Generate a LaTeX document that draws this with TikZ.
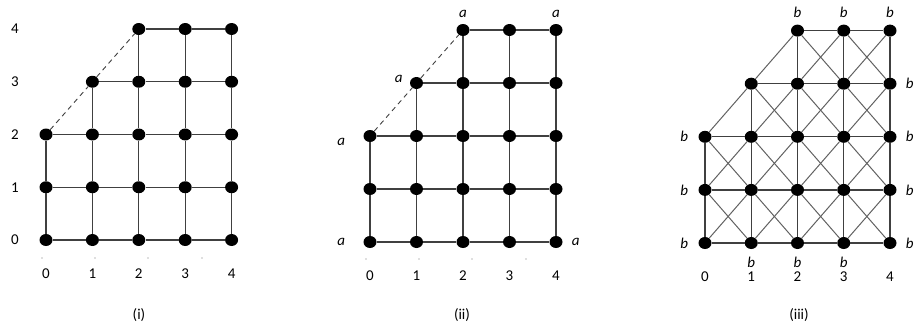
\documentclass[tikz,border=0pt]{standalone}
\usepackage{fontspec}
\setmainfont{Carlito}
\usetikzlibrary{positioning,shapes.geometric}

\begin{document}
\begin{tikzpicture}[
  x=1pt, y=-1pt,
  dot/.style={ellipse, fill=black, inner sep=0pt, minimum width=13pt, minimum height=12pt},
  gridline/.style={draw=black!75, line width=1.2pt},
  diagline/.style={draw=black!62, line width=1pt},
  axis/.style={font=\fontsize{15}{17}\selectfont, inner sep=0pt},
  letter/.style={font=\fontsize{15}{17}\selectfont\itshape, inner sep=0pt},
  tickdot/.style={circle, fill=black!55, inner sep=0pt, minimum size=1.3pt},
]
\useasboundingbox (0,0) rectangle (914,324);

% The three staircase lattices share the same shape; only the origin and
% spacing differ a little from panel to panel.
\foreach \p/\ox/\oy/\dx/\dy in {i/46/240/46.4/52.75, ii/370/242/46.5/53, iii/705/243/46.25/53.1} {
  % lattice points, row by row (the upper rows start further right)
  \foreach \y/\xs in {0/0,1/0,2/0,3/1,4/2}
    \foreach \x in {\xs,...,4}
      \node[dot] (\p-\x-\y) at ({\ox+\dx*\x},{\oy-\dy*\y}) {};
  % horizontal edges
  \foreach \y/\xs in {0/0,1/0,2/0,3/1,4/2}
    \foreach \x in {\xs,...,3} {
      \pgfmathtruncatemacro\nx{\x+1}
      \draw[gridline] (\p-\x-\y) -- (\p-\nx-\y);
    }
  % vertical edges
  \foreach \x/\ys in {0/1,1/2,2/3,3/3,4/3}
    \foreach \y in {0,...,\ys} {
      \pgfmathtruncatemacro\ny{\y+1}
      \draw[gridline] (\p-\x-\y) -- (\p-\x-\ny);
    }
  % x-axis numbers
  \foreach \x in {0,...,4}
    \node[axis, below=22pt of \p-\x-0] (\p-x\x) {\x};
}

% -- panel (i)
\draw[gridline, line width=0.9pt, dash pattern=on 5pt off 4pt] (i-0-2) -- (i-1-3) -- (i-2-4);
\foreach \y in {0,...,4}
  \node[axis] (i-y\y) at (i-4-\y -| 15,0) {\y};
\foreach \t/\tx in {1/42,2/95,3/148,4/202}
  \node[tickdot] (i-t\t) at (\tx,258) {};
\node[axis] (cap-i) at (139,315) {(i)};

% -- panel (ii)
\draw[gridline, line width=0.9pt, dash pattern=on 5pt off 4pt] (ii-0-2) -- (ii-1-3) -- (ii-2-4);
\foreach \t/\tx in {1/366,2/419,3/472,4/526}
  \node[tickdot] (ii-t\t) at (\tx,259) {};
\node[letter, left=18pt of ii-0-0] (a-00) {a};
\node[letter, left=18pt of ii-0-2, yshift=-6pt] (a-02) {a};
\node[letter, left=7pt of ii-1-3, yshift=4pt] (a-13) {a};
\node[letter, above=6pt of ii-2-4] (a-24) {a};
\node[letter, above=6pt of ii-4-4] (a-44) {a};
\node[letter, right=9pt of ii-4-0] (a-40) {a};
\node[axis] (cap-ii) at (462,315) {(ii)};

% -- panel (iii): both diagonals of every unit square, plus the slanted side
\foreach \y/\xs in {0/0,1/0,2/1,3/2}
  \foreach \x in {\xs,...,3} {
    \pgfmathtruncatemacro\nx{\x+1}
    \pgfmathtruncatemacro\ny{\y+1}
    \draw[diagline] (iii-\x-\y) -- (iii-\nx-\ny);
    \draw[diagline] (iii-\nx-\y) -- (iii-\x-\ny);
  }
\draw[diagline] (iii-0-2) -- (iii-1-3) -- (iii-2-4);
\foreach \y in {0,1,2}
  \node[letter, left=10pt of iii-0-\y] (b-l\y) {b};
\foreach \y in {0,...,3}
  \node[letter, right=9pt of iii-4-\y] (b-r\y) {b};
\foreach \x in {2,3,4}
  \node[letter, above=7pt of iii-\x-4] (b-t\x) {b};
\foreach \x in {1,2,3}
  \node[letter, below=8pt of iii-\x-0] (b-b\x) {b};
\node[axis] (cap-iii) at (799,315) {(iii)};
\end{tikzpicture}
\end{document}
